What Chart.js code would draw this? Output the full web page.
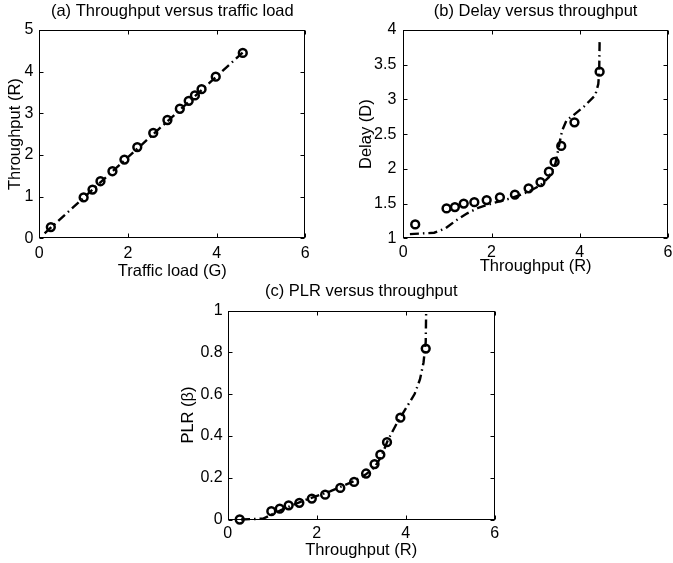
<!DOCTYPE html>
<html>
<head>
<meta charset="utf-8">
<script src="https://cdn.jsdelivr.net/npm/chart.js@4.4.0/dist/chart.umd.min.js"></script>
<style>
  body { margin: 0; background: #fff; width: 673px; height: 563px; overflow: hidden; position: relative; }
  canvas { position: absolute; }
</style>
</head>
<body>
<canvas id="chartA" width="336" height="285" style="left:0px;top:0px"></canvas>
<canvas id="chartB" width="340" height="285" style="left:340px;top:0px"></canvas>
<canvas id="chartC" width="350" height="293" style="left:160px;top:270px"></canvas>
<script>
// simulated points (circles)
const trafficLoad = [0.26, 1.0, 1.2, 1.38, 1.65, 1.92, 2.21, 2.57, 2.89, 3.17, 3.37, 3.51, 3.66, 3.98, 4.59];
const throughput = [0.27, 0.98, 1.17, 1.37, 1.61, 1.89, 2.19, 2.53, 2.84, 3.11, 3.3, 3.43, 3.58, 3.88, 4.45];
const delay = [1.2, 1.43, 1.45, 1.5, 1.52, 1.55, 1.59, 1.63, 1.72, 1.81, 1.96, 2.1, 2.33, 2.67, 3.4];
const plr = [0, 0.04, 0.052, 0.068, 0.08, 0.1, 0.119, 0.151, 0.18, 0.22, 0.265, 0.31, 0.37, 0.487, 0.818];

// analytical curves (dash-dot)
const curveAx = [0.12, 4.59];
const curveAy = [0.12, 4.46];
const curveBx = [0.15, 0.7, 0.95, 1.2, 1.45, 1.7, 2.0, 2.4, 2.8, 3.1, 3.3, 3.45, 3.55, 3.6, 3.7, 3.85, 4.1, 4.35, 4.42, 4.44, 4.45];
const curveBy = [1.06, 1.08, 1.14, 1.26, 1.36, 1.44, 1.5, 1.57, 1.66, 1.76, 1.88, 2.08, 2.4, 2.55, 2.7, 2.77, 2.9, 3.06, 3.22, 3.4, 3.83];
const curveCx = [0.3, 0.8, 0.95, 1.3, 1.7, 2.3, 2.8, 3.1, 3.3, 3.45, 3.6, 3.8, 4.0, 4.2, 4.32, 4.4, 4.45, 4.46];
const curveCy = [0, 0.004, 0.02, 0.055, 0.09, 0.135, 0.18, 0.215, 0.25, 0.3, 0.38, 0.46, 0.53, 0.6, 0.67, 0.75, 0.85, 1.0];

// tick labels
const xTicks = [0, 2, 4, 6];
const yTicksA = [0, 1, 2, 3, 4, 5];
const yTicksB = [1, 1.5, 2, 2.5, 3, 3.5, 4];
const yTicksC = [0, 0.2, 0.4, 0.6, 0.8, 1];

const family = '"Liberation Sans", Arial, Helvetica, sans-serif';
Chart.defaults.font.family = family;
Chart.defaults.color = '#000';

function pairs(xs, ys) {
  return xs.map((v, i) => ({ x: v, y: ys[i] }));
}

// matlab style box with inward ticks on all sides
const boxPlugin = {
  id: 'box',
  beforeDatasetsDraw(chart) {
    const { ctx, chartArea: a, scales: { x, y } } = chart;
    const l = Math.round(a.left) + 0.5, r = Math.round(a.right) - 0.5;
    const t = Math.round(a.top) + 0.5, b = Math.round(a.bottom) - 0.5;
    ctx.save();
    ctx.strokeStyle = '#000';
    ctx.lineWidth = 1;
    ctx.strokeRect(l, t, r - l, b - t);
    ctx.beginPath();
    x.ticks.forEach(tk => {
      const px = Math.round(x.getPixelForValue(tk.value)) + 0.5;
      ctx.moveTo(px, b); ctx.lineTo(px, b - 4);
      ctx.moveTo(px, t); ctx.lineTo(px, t + 4);
    });
    y.ticks.forEach(tk => {
      const py = Math.round(y.getPixelForValue(tk.value)) + 0.5;
      ctx.moveTo(l, py); ctx.lineTo(l + 4, py);
      ctx.moveTo(r, py); ctx.lineTo(r - 4, py);
    });
    ctx.stroke();
    ctx.restore();
  }
};

function makeChart(id, c) {
  return new Chart(document.getElementById(id), {
    type: 'scatter',
    data: {
      datasets: [
        {
          data: c.pts, showLine: false, pointRadius: 3.9, pointBorderWidth: 2.5,
          pointBorderColor: '#000', pointBackgroundColor: 'rgba(0,0,0,0)', clip: false
        },
        {
          data: c.curve, showLine: true, pointRadius: 0, borderColor: '#000', borderWidth: 2.4,
          borderDash: [9, 4, 1.5, 4], clip: false
        }
      ]
    },
    options: {
      responsive: false,
      animation: false,
      events: [],
      layout: { padding: { left: 0, top: 0, bottom: 0, right: c.padRight } },
      plugins: {
        legend: { display: false },
        tooltip: { enabled: false },
        title: {
          display: true, text: c.title, fullSize: false, color: '#000',
          font: { size: 16.5, weight: 'normal' },
          padding: { top: c.tTop, bottom: c.tBottom }
        }
      },
      scales: {
        x: {
          type: 'linear', min: 0, max: 6,
          afterBuildTicks: s => { s.ticks = xTicks.map(v => ({ value: v })); },
          afterFit: s => { s.height = c.xH; s.paddingLeft = 0; s.paddingRight = 0; },
          grid: { display: false, drawTicks: false },
          border: { display: false },
          ticks: { font: { size: 16 }, padding: c.xTickPad, maxRotation: 0, autoSkip: false, callback: v => String(v) },
          title: { display: true, text: c.xTitle, font: { size: 16.5 }, padding: { top: 0, bottom: c.xTitlePad } }
        },
        y: {
          type: 'linear', min: c.yTicks[0], max: c.yTicks[c.yTicks.length - 1],
          afterBuildTicks: s => { s.ticks = c.yTicks.map(v => ({ value: v })); },
          afterFit: s => { s.width = c.yW; s.paddingTop = 0; s.paddingBottom = 0; },
          grid: { display: false, drawTicks: false },
          border: { display: false },
          ticks: { font: { size: 16 }, padding: c.yTickPad, autoSkip: false, callback: v => String(v) },
          title: { display: true, text: c.yTitle, font: { size: 16.5 }, padding: { top: c.yTitlePad, bottom: 0 } }
        }
      }
    },
    plugins: [boxPlugin]
  });
}

makeChart('chartA', {
  title: '(a) Throughput versus traffic load', xTitle: 'Traffic load (G)', yTitle: 'Throughput (R)',
  pts: pairs(trafficLoad, throughput), curve: pairs(curveAx, curveAy), yTicks: yTicksA,
  yW: 39.3, padRight: 30.7, tTop: 1.1, tBottom: 9.1, xH: 46.7,
  xTickPad: 5.4, xTitlePad: 3.2, yTickPad: 6, yTitlePad: 5.6
});

makeChart('chartB', {
  title: '(b) Delay versus throughput', xTitle: 'Throughput (R)', yTitle: 'Delay (D)',
  pts: pairs(throughput, delay), curve: pairs(curveBx, curveBy), yTicks: yTicksB,
  yW: 63.3, padRight: 12, tTop: 1.1, tBottom: 9.1, xH: 46.7,
  xTickPad: 5.1, xTitlePad: 9.1, yTickPad: 7, yTitlePad: 16.8
});

makeChart('chartC', {
  title: '(c) PLR versus throughput', xTitle: 'Throughput (R)', yTitle: 'PLR (β)',
  pts: pairs(throughput, plr), curve: pairs(curveCx, curveCy), yTicks: yTicksC,
  yW: 67.7, padRight: 15.3, tTop: 11.8, tBottom: 8.9, xH: 43.5,
  xTickPad: 4.2, xTitlePad: 2.4, yTickPad: 5, yTitlePad: 18.4
});
</script>
</body>
</html>
